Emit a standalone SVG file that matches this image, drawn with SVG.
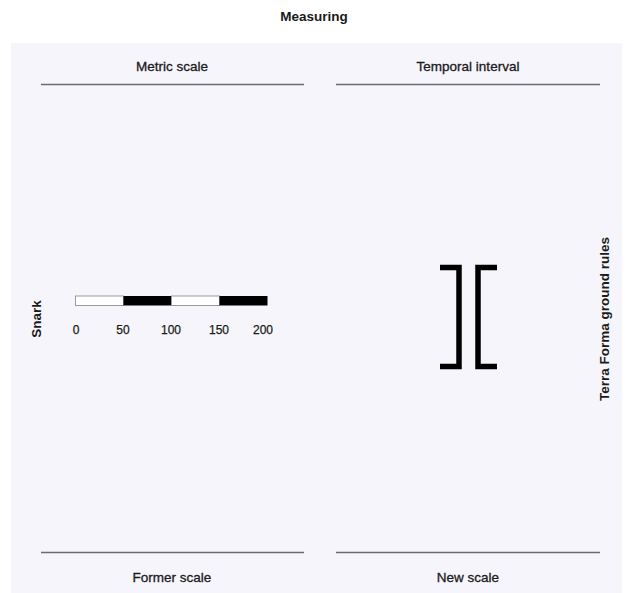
<svg xmlns="http://www.w3.org/2000/svg" width="629" height="593" viewBox="0 0 629 593">
<style>
text{font-family:"Liberation Sans",Arial,sans-serif;fill:#1a1a1a}
.hd{font-size:13.5px;text-anchor:middle;stroke:#1a1a1a;stroke-width:0.3}
.bold{font-weight:bold;stroke:none}
.tick{font-size:12px;text-anchor:middle;stroke:#1a1a1a;stroke-width:0.25}
.rule{stroke:#6b6b6b;stroke-width:1.6;fill:none}
.br{stroke:#000;stroke-width:5.5;fill:none;stroke-linejoin:miter}
</style>
<rect x="0" y="0" width="629" height="593" fill="#ffffff"/>
<rect x="11" y="43" width="611" height="550" fill="#f5f5fb"/>
<text x="314" y="21" class="hd bold" font-size="10.5">Measuring</text>
<g id="metric-scale">
<text x="172" y="71" class="hd">Metric scale</text>
<line x1="41" y1="84.5" x2="304" y2="84.5" class="rule"/>
</g>
<g id="temporal-interval">
<text x="468" y="71" class="hd">Temporal interval</text>
<line x1="336" y1="84.5" x2="600" y2="84.5" class="rule"/>
</g>
<g id="former-scale">
<line x1="41" y1="552.5" x2="304" y2="552.5" class="rule"/>
<text x="172" y="582" class="hd">Former scale</text>
</g>
<g id="new-scale">
<line x1="336" y1="552.5" x2="600" y2="552.5" class="rule"/>
<text x="468" y="582" class="hd">New scale</text>
</g>
<g id="snark">
<text transform="translate(41,319) rotate(-90)" class="hd bold" font-size="12.5">Snark</text>
</g>
<g id="terra-forma">
<text transform="translate(609,319) rotate(-90)" class="hd bold" font-size="12">Terra Forma ground rules</text>
</g>
<g id="scale-bar">
<rect x="75.5" y="296" width="48" height="9.5" fill="#ffffff" stroke="#999" stroke-width="1"/>
<rect x="123.5" y="296" width="48" height="9.5" fill="#000"/>
<rect x="171.5" y="296" width="48" height="9.5" fill="#ffffff" stroke="#999" stroke-width="1"/>
<rect x="219.5" y="296" width="48" height="9.5" fill="#000"/>
<text x="76" y="334" class="tick">0</text>
<text x="123" y="334" class="tick">50</text>
<text x="171" y="334" class="tick">100</text>
<text x="219" y="334" class="tick">150</text>
<text x="263" y="334" class="tick">200</text>
</g>
<g id="interval-brackets">
<path d="M440,267.5 H459 V366.5 H440" class="br"/>
<path d="M497,267.5 H478 V366.5 H497" class="br"/>
</g>
</svg>
